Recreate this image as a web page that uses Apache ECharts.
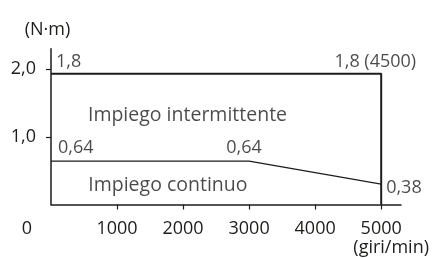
<!DOCTYPE html>
<html>
<head>
<meta charset="utf-8">
<script src="https://cdn.jsdelivr.net/npm/echarts@6/dist/echarts.min.js"></script>
<style>
html,body{margin:0;padding:0;background:#fff;}
#main{width:432px;height:258px;}
</style>
</head>
<body>
<div id="main"></div>
<script>
// x: giri/min, y: N·m (heights as drawn in the sketch, it is not to scale)
var speedTicks = [0, 1000, 2000, 3000, 4000, 5000];
var torqueTicks = [1, 2];
var intermittent = [[0, 1.93], [5000, 1.93], [5000, 0]];
var continuous = [[0, 0.64], [3000, 0.64], [5000, 0.30]];
// value notes: [x, y, text]
var valueNotes = [
    [0, 1.93, '1,8'],
    [5000, 1.93, '1,8 (4500)'],
    [0, 0.64, '0,64'],
    [3000, 0.64, '0,64'],
    [5000, 0.30, '0,38']
];
var areaNotes = [
    [560, 1.32, 'Impiego intermittente'],
    [565, 0.28, 'Impiego continuo']
];

var ink = '#1d1d1b';
var font = '"Open Sans", "Noto Sans", sans-serif';

// where each value note sits around its point
var noteLook = [
    {align: 'left', dx: 5, dy: -12},
    {align: 'right', dx: 35, dy: -12},
    {align: 'left', dx: 7, dy: -13},
    {align: 'center', dx: -5, dy: -13},
    {align: 'left', dx: 5, dy: 4}
];

var noteData = valueNotes.map(function (n, i) {
    var look = noteLook[i];
    return {
        value: [n[0], n[1]],
        label: {
            show: true,
            formatter: n[2],
            position: [look.dx, look.dy],
            align: look.align,
            verticalAlign: 'middle'
        }
    };
});
var areaData = areaNotes.map(function (n) {
    return {
        value: [n[0], n[1]],
        label: {show: true, formatter: n[2], fontSize: 19.5, position: [0, 0], align: 'left', verticalAlign: 'middle'}
    };
});

var chart = echarts.init(document.getElementById('main'));
chart.setOption({
    animation: false,
    grid: {left: 51, right: 30.5, top: 48.7, bottom: 53.5},
    xAxis: {
        type: 'value',
        min: 0,
        max: 5300,
        name: '(giri/min)',
        nameLocation: 'end',
        nameGap: 28,
        nameTextStyle: {color: ink, fontSize: 18, fontFamily: font, align: 'right', verticalAlign: 'top', padding: [34, 0, 0, 0]},
        splitLine: {show: false},
        axisLine: {lineStyle: {color: ink, width: 1.5}},
        axisTick: {show: true, length: 5, customValues: speedTicks.slice(1), lineStyle: {color: ink, width: 1.2}},
        axisLabel: {
            customValues: speedTicks,
            margin: 15,
            color: ink,
            fontSize: 18,
            fontFamily: font,
            formatter: function (v) {
                return v === 0 ? '{z|0}' : String(v);
            },
            rich: {z: {color: ink, fontSize: 18, fontFamily: font, padding: [0, 48, 0, 0]}}
        }
    },
    yAxis: {
        type: 'value',
        min: 0,
        max: 2.3,
        name: '(N·m)',
        nameLocation: 'end',
        nameGap: 10,
        nameTextStyle: {color: ink, fontSize: 18, fontFamily: font, align: 'center', padding: [0, 7, 0, 0]},
        splitLine: {show: false},
        axisLine: {show: true, lineStyle: {color: ink, width: 1.5}},
        axisTick: {show: true, length: 5, customValues: torqueTicks, lineStyle: {color: ink, width: 1.2}},
        axisLabel: {
            customValues: torqueTicks,
            margin: 15,
            color: ink,
            fontSize: 18,
            fontFamily: font,
            formatter: function (v) {
                return v.toFixed(1).replace('.', ',');
            }
        }
    },
    series: [
        {
            name: 'Impiego intermittente',
            type: 'line',
            data: intermittent,
            symbol: 'none',
            lineStyle: {color: ink, width: 2}
        },
        {
            name: 'Impiego continuo',
            type: 'line',
            data: continuous,
            symbol: 'none',
            lineStyle: {color: ink, width: 1.3}
        },
        {
            type: 'scatter',
            data: noteData.concat(areaData),
            symbolSize: 0.1,
            itemStyle: {color: 'rgba(0,0,0,0)'},
            label: {color: ink, fontSize: 18, fontFamily: font},
            silent: true
        }
    ]
});
</script>
</body>
</html>
